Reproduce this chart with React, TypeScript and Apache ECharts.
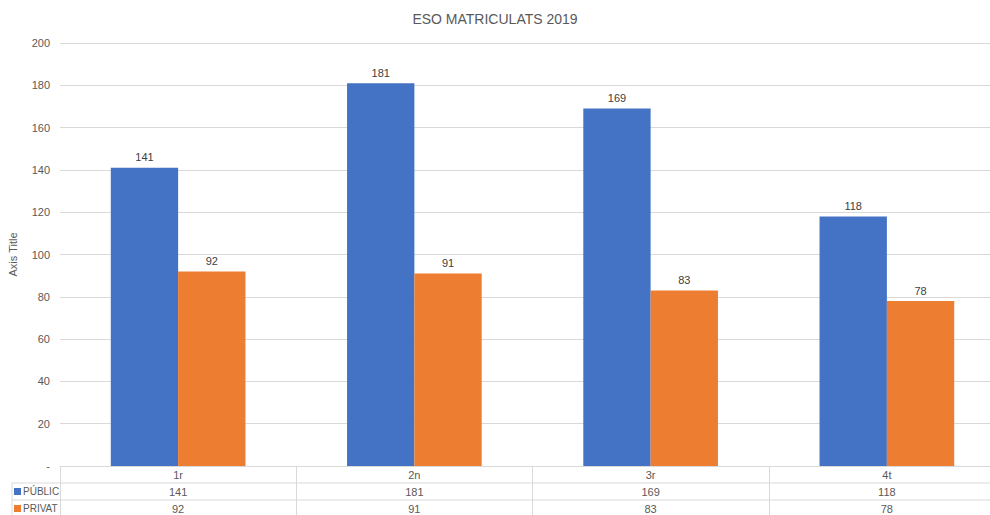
import React, { useEffect, useRef } from "react";
import * as echarts from "echarts";

const categories = ["1r", "2n", "3r", "4t"];
const publicValues = [141, 181, 169, 118];
const privatValues = [92, 91, 83, 78];
const seriesNames = ["PÚBLIC", "PRIVAT"];
const seriesColors = ["#4472C4", "#ED7D31"];
const titleText = "ESO MATRICULATS 2019";
const yAxisTitle = "Axis Title";

const FONT = "'Liberation Sans', Arial, sans-serif";
const GRID_COLOR = "#d9d9d9";
const TEXT_COLOR = "#595959";

export default function App() {
  const ref = useRef<HTMLDivElement>(null);
  useEffect(() => {
    document.body.style.margin = "0";
    if (!ref.current) return;
    const chart = echarts.init(ref.current, null, { renderer: "svg" });
    const gridLeft = 60;
    const gridRight = 1005;
    const gridTop = 43;
    const gridBottom = 466;
    const rowH = 17;
    const legendGraphics: any[] = [];
    seriesNames.forEach((name, i) => {
      const cy = gridBottom + rowH * (i + 1) + rowH / 2;
      legendGraphics.push({
        type: "rect",
        shape: { x: 14, y: cy - 3.5, width: 7, height: 7 },
        style: { fill: seriesColors[i] },
        silent: true,
      });
      legendGraphics.push({
        type: "text",
        x: 23,
        y: cy,
        style: {
          text: name,
          fontSize: 10,
          fill: TEXT_COLOR,
          fontFamily: FONT,
          verticalAlign: "middle",
          align: "left",
        },
        silent: true,
      });
    });
    chart.setOption({
      animation: false,
      textStyle: { fontFamily: FONT },
      title: {
        text: titleText,
        left: "center",
        top: 7,
        textStyle: { fontSize: 14, fontWeight: "normal", color: TEXT_COLOR, fontFamily: FONT },
      },
      grid: {
        left: gridLeft,
        top: gridTop,
        right: 990 - gridRight,
        bottom: 515 - gridBottom,
        containLabel: false,
        outerBoundsMode: "none",
      },
      xAxis: {
        type: "category",
        data: categories,
        axisLine: { show: true, lineStyle: { color: GRID_COLOR } },
        axisTick: { show: true, length: rowH * 3, lineStyle: { color: GRID_COLOR }, alignWithLabel: false },
        axisLabel: {
          margin: 0,
          fontSize: 11,
          color: TEXT_COLOR,
          lineHeight: rowH,
          fontFamily: FONT,
          formatter: (v: string, i: number) => `${v}\n${publicValues[i]}\n${privatValues[i]}`,
        },
      },
      yAxis: {
        type: "value",
        min: 0,
        max: 200,
        interval: 20,
        name: yAxisTitle,
        nameLocation: "middle",
        nameGap: 42,
        nameRotate: 90,
        nameTextStyle: { fontSize: 11, color: TEXT_COLOR, fontFamily: FONT },
        axisLine: { show: false },
        axisTick: { show: false },
        splitLine: { lineStyle: { color: GRID_COLOR } },
        axisLabel: {
          fontSize: 11,
          color: TEXT_COLOR,
          margin: 10,
          fontFamily: FONT,
          formatter: (v: number) => (v === 0 ? "-" : String(v)),
        },
      },
      graphic: [
        {
          type: "line",
          shape: { x1: 12, y1: gridBottom + rowH, x2: gridRight, y2: gridBottom + rowH },
          style: { stroke: GRID_COLOR, lineWidth: 1 },
          silent: true,
        },
        {
          type: "line",
          shape: { x1: 12, y1: gridBottom + rowH * 2, x2: gridRight, y2: gridBottom + rowH * 2 },
          style: { stroke: GRID_COLOR, lineWidth: 1 },
          silent: true,
        },
        {
          type: "line",
          shape: { x1: 12, y1: gridBottom + rowH, x2: 12, y2: gridBottom + rowH * 3 },
          style: { stroke: GRID_COLOR, lineWidth: 1 },
          silent: true,
        },
        ...legendGraphics,
      ],
      series: seriesNames.map((name, i) => ({
        name,
        type: "bar",
        data: i === 0 ? publicValues : privatValues,
        barCategoryGap: "43%",
        barGap: "0%",
        itemStyle: { color: seriesColors[i] },
        label: { show: true, position: "top", distance: 5, fontSize: 11, color: "#404040", fontFamily: FONT },
      })),
    });
    return () => chart.dispose();
  }, []);
  return <div ref={ref} style={{ width: 990, height: 515 }} />;
}
